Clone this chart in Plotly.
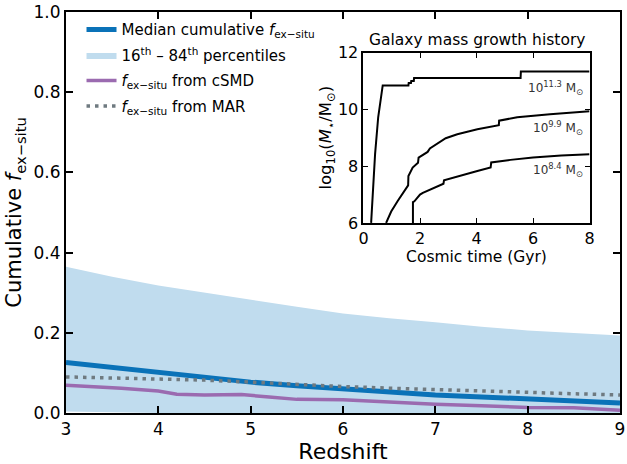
import plotly.graph_objects as go

# ---- main panel: cumulative ex-situ fraction vs redshift ----
redshift = [3.0, 3.5, 4.0, 4.5, 5.0, 5.5, 6.0, 6.5, 7.0, 7.5, 8.0, 8.5, 9.0]
median_fex = [0.126, 0.113, 0.101, 0.089, 0.077, 0.068, 0.060, 0.052, 0.045, 0.040, 0.035, 0.030, 0.025]
p16_fex = [0.004, 0.002, 0.0, 0.0, 0.0, 0.0, 0.0, 0.0, 0.0, 0.0, 0.0, 0.0, 0.0]
p84_fex = [0.365, 0.340, 0.318, 0.300, 0.283, 0.265, 0.248, 0.236, 0.226, 0.215, 0.206, 0.200, 0.193]
mar_fex = [0.090, 0.088, 0.086, 0.082, 0.077, 0.071, 0.066, 0.062, 0.058, 0.055, 0.051, 0.048, 0.045]

csmd_z = [3.0, 3.6, 4.0, 4.2, 4.5, 4.9, 5.2, 5.5, 6.0, 6.5, 7.0, 7.5, 8.0, 8.5, 9.0]
csmd_fex = [0.069, 0.062, 0.055, 0.047, 0.045, 0.046, 0.040, 0.034, 0.033, 0.027, 0.022, 0.018, 0.014, 0.013, 0.007]

# ---- inset: stellar mass growth histories ----
t_hi = [0.27, 0.34, 0.41, 0.52, 0.68, 1.59, 1.60, 1.68, 1.69, 1.78, 1.79, 5.56, 5.57, 8.0]
m_hi = [6.0, 7.3, 8.42, 9.72, 10.84, 10.84, 10.93, 10.93, 11.0, 11.0, 11.1, 11.1, 11.33, 11.33]

t_mid = [0.80, 0.98, 1.21, 1.50, 1.58, 1.59, 1.74, 1.93, 1.95, 2.27, 2.35, 2.91, 3.32, 4.03, 4.79, 4.80, 5.44, 6.60, 8.0]
m_mid = [6.0, 6.4, 6.77, 7.24, 7.32, 7.65, 7.95, 8.12, 8.3, 8.5, 8.62, 8.98, 9.12, 9.30, 9.44, 9.60, 9.72, 9.83, 9.93]

t_lo = [1.75, 1.75, 1.80, 2.00, 2.10, 2.50, 2.83, 2.85, 3.40, 4.03, 4.50, 4.52, 5.20, 6.00, 7.00, 8.0]
m_lo = [6.0, 6.73, 6.76, 7.00, 7.06, 7.24, 7.38, 7.50, 7.66, 7.83, 7.95, 8.13, 8.22, 8.30, 8.37, 8.42]

mass_labels = ["10<sup>11.3</sup> M<sub>⊙</sub>", "10<sup>9.9</sup> M<sub>⊙</sub>", "10<sup>8.4</sup> M<sub>⊙</sub>"]
label_mass = [11.3, 9.9, 8.4]

FONT = "DejaVu Sans"
BLUE = "#0a72b8"
BAND = "#c0dcee"
PURPLE = "#9b6bb0"
GREY = "#6f7a80"

fig = go.Figure()

fig.add_trace(go.Scatter(x=redshift, y=p16_fex, mode="lines", line=dict(width=0, color=BAND),
                         showlegend=False, hoverinfo="skip", legendgroup="band"))
fig.add_trace(go.Scatter(x=redshift, y=p84_fex, mode="lines", line=dict(width=0, color=BAND),
                         fill="tonexty", fillcolor=BAND, legendgroup="band",
                         name="16<sup>th</sup> – 84<sup>th</sup> percentiles", legendrank=2))
fig.add_trace(go.Scatter(x=csmd_z, y=csmd_fex, mode="lines", line=dict(width=3.5, color=PURPLE),
                         legendgroup="csmd",
                         name="<i>f</i><sub>ex−situ</sub> from cSMD", legendrank=3))
fig.add_trace(go.Scatter(x=redshift, y=median_fex, mode="lines", line=dict(width=5, color=BLUE),
                         legendgroup="median",
                         name="Median cumulative <i>f</i><sub>ex−situ</sub>", legendrank=1))
fig.add_trace(go.Scatter(x=redshift, y=mar_fex, mode="lines",
                         line=dict(width=3.5, color=GREY, dash="3.5px,5px"),
                         legendgroup="mar",
                         name="<i>f</i><sub>ex−situ</sub> from MAR", legendrank=4))

for t, m in [(t_hi, m_hi), (t_mid, m_mid), (t_lo, m_lo)]:
    fig.add_trace(go.Scatter(x=t, y=m, mode="lines", line=dict(width=2, color="black"),
                             xaxis="x2", yaxis="y2", showlegend=False))

axis_common = dict(showline=True, linecolor="black", linewidth=2, mirror="ticks",
                   ticks="inside", tickcolor="black", showgrid=False, zeroline=False)

fig.update_layout(
    width=627, height=464,
    margin=dict(l=66, r=2, t=12, b=51),
    paper_bgcolor="white", plot_bgcolor="white",
    font=dict(family=FONT, color="black"),
    xaxis=dict(range=[3, 9], dtick=1, ticklen=7, tickwidth=1.5,
               tickfont=dict(size=17),
               title=dict(text="Redshift", font=dict(size=22), standoff=4),
               **axis_common),
    yaxis=dict(range=[0, 1], dtick=0.2, tickformat=".1f", ticklen=7, tickwidth=1.5,
               tickfont=dict(size=17),
               title=dict(text="Cumulative <i>f</i><sub>ex−situ</sub>", font=dict(size=21), standoff=6),
               **axis_common),
    xaxis2=dict(domain=[0.537, 0.945], anchor="y2", range=[0, 8], dtick=2,
                ticklen=5, tickwidth=1.2, tickfont=dict(size=16),
                title=dict(text="Cosmic time (Gyr)", font=dict(size=15.5), standoff=0),
                **axis_common),
    yaxis2=dict(domain=[0.474, 0.899], anchor="x2", range=[6, 12], dtick=2,
                ticklen=5, tickwidth=1.2, tickfont=dict(size=16),
                title=dict(text="log<sub>10</sub>(<i>M</i><sub>⋆</sub>/M<sub>⊙</sub>)",
                           font=dict(size=16.5), standoff=0),
                **axis_common),
    legend=dict(x=0.028, y=0.997, xanchor="left", yanchor="top", bgcolor="rgba(0,0,0,0)",
                font=dict(size=15), traceorder="grouped", tracegroupgap=3),
    showlegend=True,
)

annotations = [dict(text="Galaxy mass growth history", xref="x2 domain", yref="y2 domain",
                    x=0.5, y=1.0, xanchor="center", yanchor="bottom", yshift=2,
                    showarrow=False, font=dict(size=15.5))]
for lab, lm in zip(mass_labels, label_mass):
    annotations.append(dict(text=lab, xref="x2", yref="y2", x=7.85, y=lm - 0.55,
                            xanchor="right", yanchor="middle", showarrow=False,
                            font=dict(size=12, color="#333333")))
fig.update_layout(annotations=annotations)

fig.write_html("out.html")
